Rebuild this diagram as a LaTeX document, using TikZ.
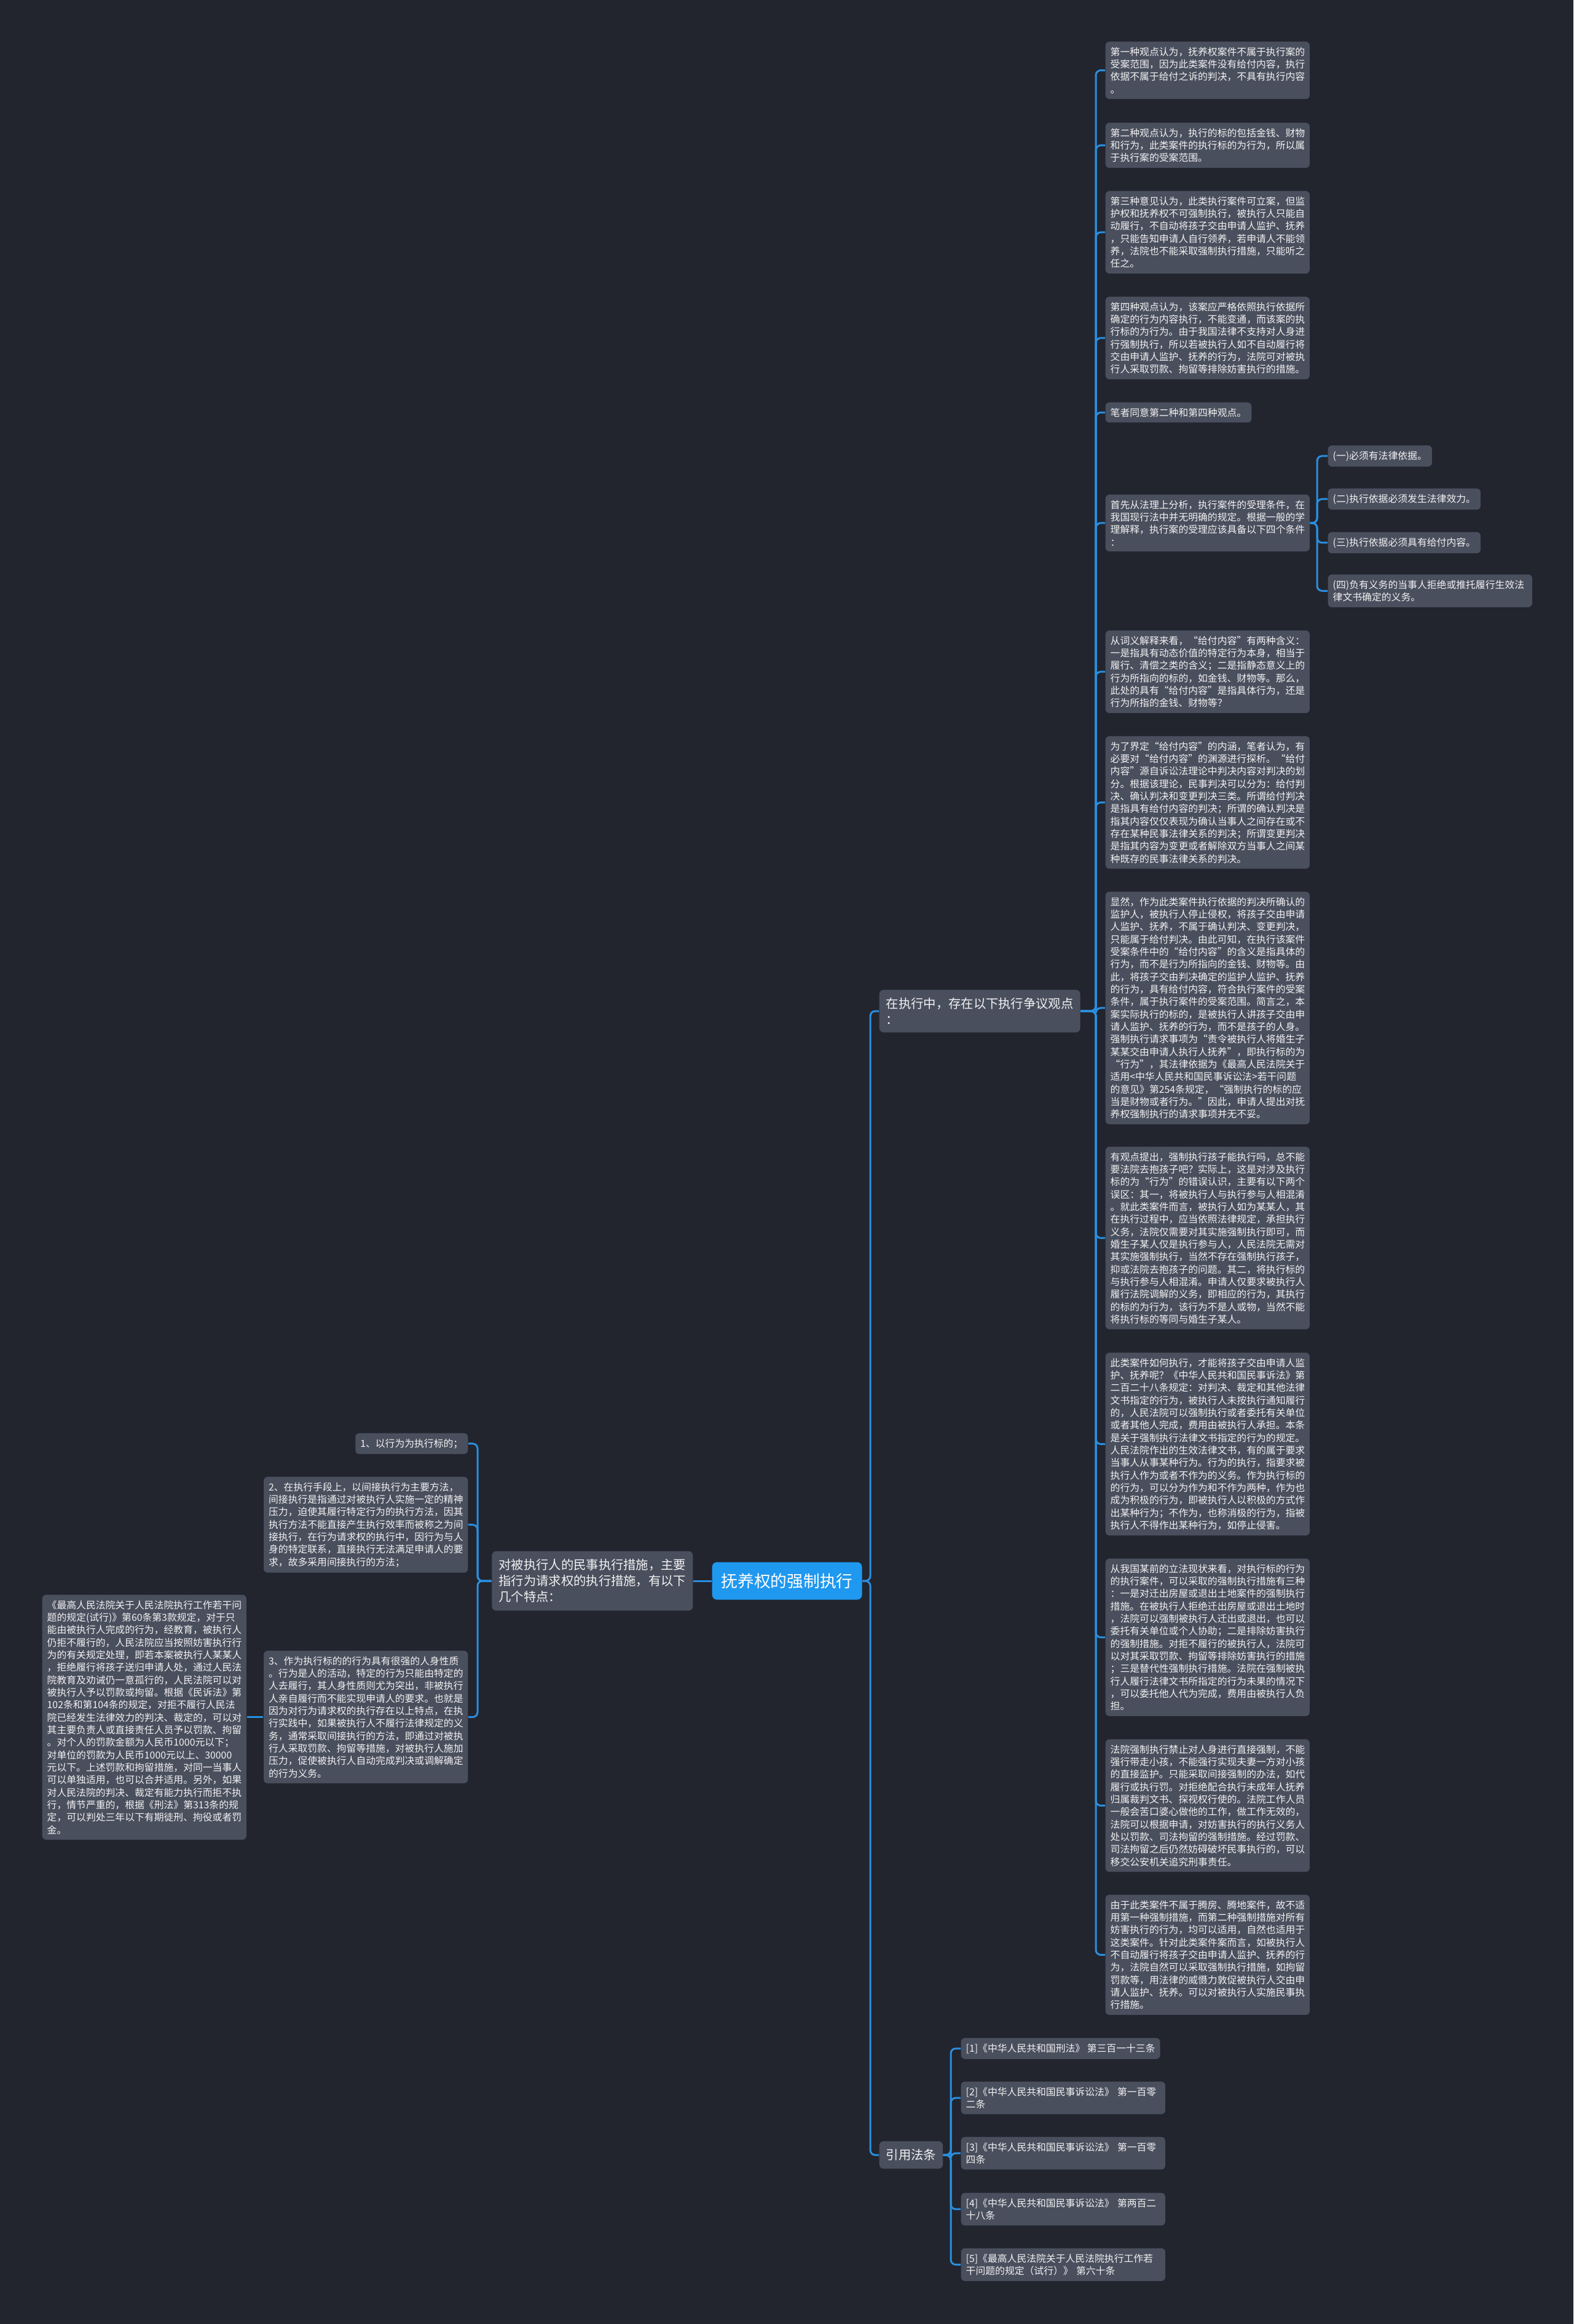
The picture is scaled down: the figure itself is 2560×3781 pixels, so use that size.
\documentclass[tikz,border=0pt]{standalone}
\usepackage{fontspec}
\setmainfont{Noto Sans CJK SC}
\usepackage{tikz}
\usetikzlibrary{calc}
\usepackage{xcolor}

\definecolor{bgdark}{HTML}{22252E}
\definecolor{cardgrey}{HTML}{4A4F5E}
\definecolor{linkblue}{HTML}{2A8FE0}
\definecolor{rootblue}{HTML}{1F98F0}
\definecolor{cardtext}{HTML}{F2F2F2}

\tikzset{
	card/.style={fill=cardgrey, rounded corners=1.8pt, text=cardtext, align=left,
		font=\fontsize{4.5pt}{5.78pt}\selectfont, inner xsep=0.08cm, inner ysep=0.09cm, anchor=north west},
	widecard/.style={card, text width=3.16cm},
	midcard/.style={fill=cardgrey, rounded corners=2pt, text=cardtext, align=left,
		font=\fontsize{5.78pt}{7.4pt}\selectfont, inner xsep=0.11cm, inner ysep=0.13cm},
	rootcard/.style={fill=rootblue, rounded corners=2.2pt, text=white,
		font=\fontsize{7.6pt}{9pt}\selectfont, inner xsep=0.15cm, inner ysep=0.18cm},
	link/.style={draw=linkblue, line width=0.85pt, rounded corners=0.08cm},
}

\begin{document}
\begin{tikzpicture}[x=0.01cm,y=-0.01cm]
	
	% Page
	\fill[bgdark] (0,0) rectangle (2560,3781);
	\useasboundingbox (0,0) rectangle (2560,3781);
	
	% Spines
	\coordinate (spineR) at (1783,0);
	\coordinate (spineS) at (2143,0);
	\coordinate (spineQ) at (1547,0);
	\coordinate (spineM) at (1416,0);
	\coordinate (spineL) at (777,0);
	
	% Centre and first level
	\node[rootcard, anchor=west] (root) at (1158,2572) {抚养权的强制执行};
	\node[midcard, anchor=west] (zhengyi) at (1430,1645) {在执行中，存在以下执行争议观点\\：};
	\node[midcard, anchor=west] (yinyong) at (1430,3506) {引用法条};
	\node[midcard, anchor=east] (duibei) at (1128,2572) {对被执行人的民事执行措施，主要\\指行为请求权的执行措施，有以下\\几个特点：};
	
	% Disputed views
	\node[widecard] (v1) at (1798,67) {第一种观点认为，抚养权案件不属于执行案的\\受案范围，因为此类案件没有给付内容，执行\\依据不属于给付之诉的判决，不具有执行内容\\。};
	\node[widecard] (v2) at (1798,199) {第二种观点认为，执行的标的包括金钱、财物\\和行为，此类案件的执行标的为行为，所以属\\于执行案的受案范围。};
	\node[widecard] (v3) at (1798,310) {第三种意见认为，此类执行案件可立案，但监\\护权和抚养权不可强制执行，被执行人只能自\\动履行，不自动将孩子交由申请人监护、抚养\\，只能告知申请人自行领养，若申请人不能领\\养，法院也不能采取强制执行措施，只能听之\\任之。};
	\node[widecard] (v4) at (1798,482) {第四种观点认为，该案应严格依照执行依据所\\确定的行为内容执行，不能变通，而该案的执\\行标的为行为。由于我国法律不支持对人身进\\行强制执行，所以若被执行人如不自动履行将\\交由申请人监护、抚养的行为，法院可对被执\\行人采取罚款、拘留等排除妨害执行的措施。};
	\node[card] (v5) at (1798,654) {笔者同意第二种和第四种观点。};
	\node[widecard] (v6) at (1798,804) {首先从法理上分析，执行案件的受理条件，在\\我国现行法中并无明确的规定。根据一般的学\\理解释，执行案的受理应该具备以下四个条件\\：};
	\node[widecard] (v7) at (1798,1025) {从词义解释来看，“给付内容”有两种含义：\\一是指具有动态价值的特定行为本身，相当于\\履行、清偿之类的含义；二是指静态意义上的\\行为所指向的标的，如金钱、财物等。那么，\\此处的具有“给付内容”是指具体行为，还是\\行为所指的金钱、财物等？};
	\node[widecard] (v8) at (1798,1197) {为了界定“给付内容”的内涵，笔者认为，有\\必要对“给付内容”的渊源进行探析。“给付\\内容”源自诉讼法理论中判决内容对判决的划\\分。根据该理论，民事判决可以分为：给付判\\决、确认判决和变更判决三类。所谓给付判决\\是指具有给付内容的判决；所谓的确认判决是\\指其内容仅仅表现为确认当事人之间存在或不\\存在某种民事法律关系的判决；所谓变更判决\\是指其内容为变更或者解除双方当事人之间某\\种既存的民事法律关系的判决。};
	\node[widecard] (v9) at (1798,1450) {显然，作为此类案件执行依据的判决所确认的\\监护人，被执行人停止侵权，将孩子交由申请\\人监护、抚养，不属于确认判决、变更判决，\\只能属于给付判决。由此可知，在执行该案件\\受案条件中的“给付内容”的含义是指具体的\\行为，而不是行为所指向的金钱、财物等。由\\此，将孩子交由判决确定的监护人监护、抚养\\的行为，具有给付内容，符合执行案件的受案\\条件，属于执行案件的受案范围。简言之，本\\案实际执行的标的，是被执行人讲孩子交由申\\请人监护、抚养的行为，而不是孩子的人身。\\强制执行请求事项为“责令被执行人将婚生子\\某某交由申请人执行人抚养”，即执行标的为\\“行为”，其法律依据为《最高人民法院关于\\适用<中华人民共和国民事诉讼法>若干问题\\的意见》第254条规定，“强制执行的标的应\\当是财物或者行为。”因此，申请人提出对抚\\养权强制执行的请求事项并无不妥。};
	\node[widecard] (v10) at (1798,1865) {有观点提出，强制执行孩子能执行吗，总不能\\要法院去抱孩子吧？实际上，这是对涉及执行\\标的为“行为”的错误认识，主要有以下两个\\误区：其一，将被执行人与执行参与人相混淆\\。就此类案件而言，被执行人如为某某人，其\\在执行过程中，应当依照法律规定，承担执行\\义务，法院仅需要对其实施强制执行即可，而\\婚生子某人仅是执行参与人，人民法院无需对\\其实施强制执行，当然不存在强制执行孩子，\\抑或法院去抱孩子的问题。其二，将执行标的\\与执行参与人相混淆。申请人仅要求被执行人\\履行法院调解的义务，即相应的行为，其执行\\的标的为行为，该行为不是人或物，当然不能\\将执行标的等同与婚生子某人。};
	\node[widecard] (v11) at (1798,2200) {此类案件如何执行，才能将孩子交由申请人监\\护、抚养呢？《中华人民共和国民事诉法》第\\二百二十八条规定：对判决、裁定和其他法律\\文书指定的行为，被执行人未按执行通知履行\\的，人民法院可以强制执行或者委托有关单位\\或者其他人完成，费用由被执行人承担。本条\\是关于强制执行法律文书指定的行为的规定。\\人民法院作出的生效法律文书，有的属于要求\\当事人从事某种行为。行为的执行，指要求被\\执行人作为或者不作为的义务。作为执行标的\\的行为，可以分为作为和不作为两种，作为也\\成为积极的行为，即被执行人以积极的方式作\\出某种行为；不作为，也称消极的行为，指被\\执行人不得作出某种行为，如停止侵害。};
	\node[widecard] (v12) at (1798,2535) {从我国某前的立法现状来看，对执行标的行为\\的执行案件，可以采取的强制执行措施有三种\\：一是对迁出房屋或退出土地案件的强制执行\\措施。在被执行人拒绝迁出房屋或退出土地时\\，法院可以强制被执行人迁出或退出，也可以\\委托有关单位或个人协助；二是排除妨害执行\\的强制措施。对拒不履行的被执行人，法院可\\以对其采取罚款、拘留等排除妨害执行的措施\\；三是替代性强制执行措施。法院在强制被执\\行人履行法律文书所指定的行为未果的情况下\\，可以委托他人代为完成，费用由被执行人负\\担。};
	\node[widecard] (v13) at (1798,2829) {法院强制执行禁止对人身进行直接强制，不能\\强行带走小孩，不能强行实现夫妻一方对小孩\\的直接监护。只能采取间接强制的办法，如代\\履行或执行罚。对拒绝配合执行未成年人抚养\\归属裁判文书、探视权行使的。法院工作人员\\一般会苦口婆心做他的工作，做工作无效的，\\法院可以根据申请，对妨害执行的执行义务人\\处以罚款、司法拘留的强制措施。经过罚款、\\司法拘留之后仍然妨碍破坏民事执行的，可以\\移交公安机关追究刑事责任。};
	\node[widecard] (v14) at (1798,3082) {由于此类案件不属于腾房、腾地案件，故不适\\用第一种强制措施，而第二种强制措施对所有\\妨害执行的行为，均可以适用，自然也适用于\\这类案件。针对此类案件案而言，如被执行人\\不自动履行将孩子交由申请人监护、抚养的行\\为，法院自然可以采取强制执行措施，如拘留\\罚款等，用法律的威慑力敦促被执行人交由申\\请人监护、抚养。可以对被执行人实施民事执\\行措施。};
	
	% Four conditions
	\node[card] (s1) at (2160,724) {(一)必须有法律依据。};
	\node[card] (s2) at (2160,794) {(二)执行依据必须发生法律效力。};
	\node[card] (s3) at (2160,865) {(三)执行依据必须具有给付内容。};
	\node[widecard] (s4) at (2160,934) {(四)负有义务的当事人拒绝或推托履行生效法\\律文书确定的义务。};
	
	% Cited articles
	\node[card] (q1) at (1563,3315) {[1]《中华人民共和国刑法》~第三百一十三条};
	\node[widecard] (q2) at (1563,3386) {[2]《中华人民共和国民事诉讼法》~第一百零\\二条};
	\node[widecard] (q3) at (1563,3476) {[3]《中华人民共和国民事诉讼法》~第一百零\\四条};
	\node[widecard] (q4) at (1563,3567) {[4]《中华人民共和国民事诉讼法》~第两百二\\十八条};
	\node[widecard] (q5) at (1563,3657) {[5]《最高人民法院关于人民法院执行工作若\\干问题的规定（试行）》~第六十条};
	
	% Features of the measures (left side)
	\node[card, anchor=north east] (t1) at (762,2331) {1、以行为为执行标的；};
	\node[widecard, anchor=north east] (t2) at (762,2402) {2、在执行手段上，以间接执行为主要方法，\\间接执行是指通过对被执行人实施一定的精神\\压力，迫使其履行特定行为的执行方法，因其\\执行方法不能直接产生执行效率而被称之为间\\接执行，在行为请求权的执行中，因行为与人\\身的特定联系，直接执行无法满足申请人的要\\求，故多采用间接执行的方法；};
	\node[widecard, anchor=north east] (t3) at (762,2685) {3、作为执行标的的行为具有很强的人身性质\\。行为是人的活动，特定的行为只能由特定的\\人去履行，其人身性质则尤为突出，非被执行\\人亲自履行而不能实现申请人的要求。也就是\\因为对行为请求权的执行存在以上特点，在执\\行实践中，如果被执行人不履行法律规定的义\\务，通常采取间接执行的方法，即通过对被执\\行人采取罚款、拘留等措施，对被执行人施加\\压力，促使被执行人自动完成判决或调解确定\\的行为义务。};
	\node[widecard] (t3a) at (68,2594) {《最高人民法院关于人民法院执行工作若干问\\题的规定(试行)》第60条第3款规定，对于只\\能由被执行人完成的行为，经教育，被执行人\\仍拒不履行的，人民法院应当按照妨害执行行\\为的有关规定处理，即若本案被执行人某某人\\，拒绝履行将孩子送归申请人处，通过人民法\\院教育及劝诫仍一意孤行的，人民法院可以对\\被执行人予以罚款或拘留。根据《民诉法》第\\102条和第104条的规定，对拒不履行人民法\\院已经发生法律效力的判决、裁定的，可以对\\其主要负责人或直接责任人员予以罚款、拘留\\。对个人的罚款金额为人民币1000元以下；\\对单位的罚款为人民币1000元以上、30000\\元以下。上述罚款和拘留措施，对同一当事人\\可以单独适用，也可以合并适用。另外，如果\\对人民法院的判决、裁定有能力执行而拒不执\\行，情节严重的，根据《刑法》第313条的规\\定，可以判处三年以下有期徒刑、拘役或者罚\\金。};
	
	% Root branches
	\draw[link] (root.west) -- (duibei.east);
	\draw[link] (root.east) -- (root.east -| spineM) |- (zhengyi.west);
	\draw[link] (root.east) -- (root.east -| spineM) |- (yinyong.west);
	
	% Branches of the disputed views
	\draw[link] (zhengyi.east) -- (zhengyi.east -| spineR) |- (v1.west);
	\draw[link] (zhengyi.east) -- (zhengyi.east -| spineR) |- (v2.west);
	\draw[link] (zhengyi.east) -- (zhengyi.east -| spineR) |- (v3.west);
	\draw[link] (zhengyi.east) -- (zhengyi.east -| spineR) |- (v4.west);
	\draw[link] (zhengyi.east) -- (zhengyi.east -| spineR) |- (v5.west);
	\draw[link] (zhengyi.east) -- (zhengyi.east -| spineR) |- (v6.west);
	\draw[link] (zhengyi.east) -- (zhengyi.east -| spineR) |- (v7.west);
	\draw[link] (zhengyi.east) -- (zhengyi.east -| spineR) |- (v8.west);
	\draw[link] (zhengyi.east) -- (zhengyi.east -| spineR) |- (v9.west);
	\draw[link] (zhengyi.east) -- (zhengyi.east -| spineR) |- (v10.west);
	\draw[link] (zhengyi.east) -- (zhengyi.east -| spineR) |- (v11.west);
	\draw[link] (zhengyi.east) -- (zhengyi.east -| spineR) |- (v12.west);
	\draw[link] (zhengyi.east) -- (zhengyi.east -| spineR) |- (v13.west);
	\draw[link] (zhengyi.east) -- (zhengyi.east -| spineR) |- (v14.west);
	
	% Branches of the four conditions
	\draw[link] (v6.east) -- (v6.east -| spineS) |- (s1.west);
	\draw[link] (v6.east) -- (v6.east -| spineS) |- (s2.west);
	\draw[link] (v6.east) -- (v6.east -| spineS) |- (s3.west);
	\draw[link] (v6.east) -- (v6.east -| spineS) |- (s4.west);
	
	% Branches of the cited articles
	\draw[link] (yinyong.east) -- (yinyong.east -| spineQ) |- (q1.west);
	\draw[link] (yinyong.east) -- (yinyong.east -| spineQ) |- (q2.west);
	\draw[link] (yinyong.east) -- (yinyong.east -| spineQ) |- (q3.west);
	\draw[link] (yinyong.east) -- (yinyong.east -| spineQ) |- (q4.west);
	\draw[link] (yinyong.east) -- (yinyong.east -| spineQ) |- (q5.west);
	
	% Branches on the left
	\draw[link] (duibei.west) -- (duibei.west -| spineL) |- (t1.east);
	\draw[link] (duibei.west) -- (duibei.west -| spineL) |- (t2.east);
	\draw[link] (duibei.west) -- (duibei.west -| spineL) |- (t3.east);
	\draw[link] (t3.west) -- (t3.west -| t3a.east);
	
\end{tikzpicture}
\end{document}
